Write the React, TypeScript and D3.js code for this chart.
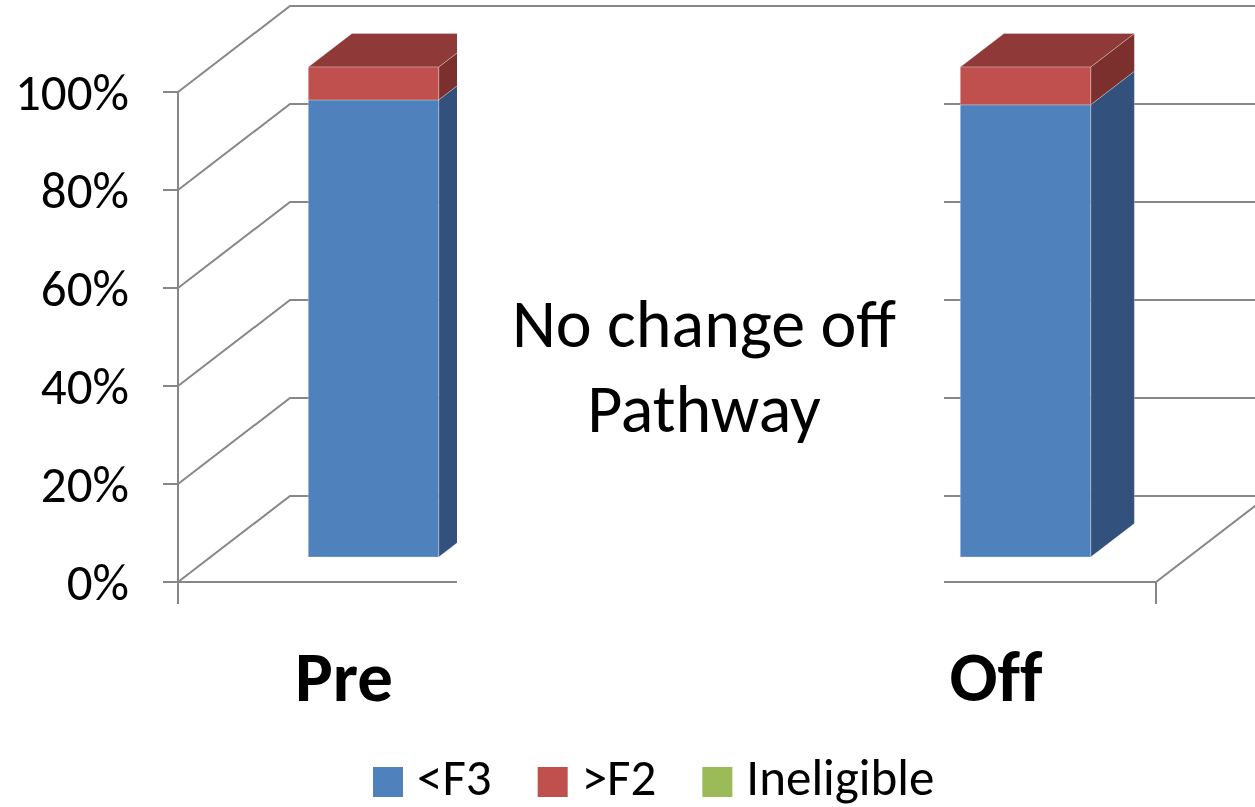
import React from "react";
import * as d3 from "d3";

// Categories along the floor; the middle slot sits under the note box.
const categories = ["Pre", "", "Off"];
const seriesNames = ["<F3", ">F2", "Ineligible"];
// Share of patients per category (fractions of 1), one array per series.
const lessF3 = [0.933, null, 0.923];
const moreF2 = [0.067, null, 0.077];
const ineligible = [0, null, 0];
const yTicks = [0, 0.2, 0.4, 0.6, 0.8, 1];
const noteLines = ["No change off", "Pathway"];

const W = 1255;
const H = 807;
const FONT = "Carlito, Calibri, Lato, sans-serif";

// front / side / top shades for each series
const shades = [
  { front: "#4F81BD", side: "#32527D", top: "#3F6797" },
  { front: "#C0504D", side: "#7B302E", top: "#8F3A38" },
  { front: "#9BBB59", side: "#637A35", top: "#7C9847" },
];

function textWidth(t: string, size: number) {
  const ctx = document.createElement("canvas").getContext("2d");
  if (!ctx) return t.length * size * 0.5;
  ctx.font = `${size}px ${FONT}`;
  return ctx.measureText(t).width;
}

export default function App() {
  const x = d3.scaleBand<string>().domain(categories.map((c, i) => i + ":" + c)).range([178, 1156]).padding(0);
  const y = d3.scaleLinear().domain([0, 1]).range([582, 92]);
  const DX = 112;
  const DY = -86;
  const d0 = 0.29;
  const d1 = 0.68;
  const barW = x.bandwidth() / 2.5;
  const grid = "#878787";

  const series = [lessF3, moreF2, ineligible];
  const bars: React.ReactNode[] = [];
  categories.forEach((c, i) => {
    if (series[0][i] == null) return;
    const cx = (x(i + ":" + c) as number) + x.bandwidth() / 2;
    const xl = cx - barW / 2;
    const xr = cx + barW / 2;
    let acc = 0;
    const segs: { lo: number; hi: number; s: number }[] = [];
    series.forEach((arr, s) => {
      const v = arr[i] as number;
      if (v > 0) {
        segs.push({ lo: acc, hi: acc + v, s });
        acc += v;
      }
    });
    const P = (px: number, v: number, d: number) => `${px + d * DX},${y(v) + d * DY}`;
    segs.forEach((g, k) => {
      const sh = shades[g.s];
      const isTop = k === segs.length - 1;
      bars.push(
        <g key={`${i}-${g.s}`} stroke="rgba(255,255,255,0.35)" strokeWidth={0.8}>
          <polygon points={[P(xr, g.hi, d0), P(xr, g.hi, d1), P(xr, g.lo, d1), P(xr, g.lo, d0)].join(" ")} fill={sh.side} />
          {isTop && (
            <polygon points={[P(xl, g.hi, d0), P(xr, g.hi, d0), P(xr, g.hi, d1), P(xl, g.hi, d1)].join(" ")} fill={sh.top} />
          )}
          <polygon points={[P(xl, g.hi, d0), P(xr, g.hi, d0), P(xr, g.lo, d0), P(xl, g.lo, d0)].join(" ")} fill={sh.front} />
        </g>
      );
    });
  });

  const [x0, x1] = x.range();
  const boundaries = [...categories.map((c, i) => x(i + ":" + c) as number), x1];

  // legend layout: swatch, gap, label, gap
  const legendSize = 51;
  const sw = 30;
  let lx = 373;
  const legendItems = seriesNames.map((n, i) => {
    const item = { n, i, x: lx };
    lx += sw + 14 + textWidth(n, legendSize) + 46;
    return item;
  });

  return (
    <svg width={W} height={H} style={{ position: "absolute", left: 0, top: 0, background: "#fff" }} fontFamily={FONT}>
      {/* walls: left wall diagonals + back wall gridlines */}
      <g stroke={grid} strokeWidth={2} fill="none">
        {yTicks.map((t) => (
          <polyline key={t} points={`${x0},${y(t)} ${x0 + DX},${y(t) + DY} ${x1 + DX},${y(t) + DY}`} />
        ))}
        {/* floor front and right edges */}
        <polyline points={`${x0},${y(0)} ${x1},${y(0)} ${x1 + DX},${y(0) + DY}`} />
        {/* value axis */}
        <line x1={x0} y1={y(1)} x2={x0} y2={y(0) + 22} />
        {yTicks.map((t) => (
          <line key={"t" + t} x1={x0 - 15} y1={y(t)} x2={x0} y2={y(t)} />
        ))}
        {boundaries.map((b, i) => (
          <line key={"c" + i} x1={b} y1={y(0)} x2={b} y2={y(0) + 22} />
        ))}
      </g>

      {bars}

      {/* note box over the middle slot */}
      <rect x={457} y={12} width={487} height={600} fill="#fff" />
      <g fontSize={68} textAnchor="middle" fill="#000">
        {noteLines.map((l, i) => (
          <text key={l} x={704} y={347 + i * 85}>{l}</text>
        ))}
      </g>

      {/* value axis labels */}
      <g fontSize={51} textAnchor="end" fill="#000">
        {yTicks.map((t) => (
          <text key={t} x={129} y={y(t)} dy="0.36em">{d3.format(".0%")(t)}</text>
        ))}
      </g>

      {/* category labels */}
      <g fontSize={71} fontWeight="bold" textAnchor="middle" fill="#000" style={{ fontVariantLigatures: "none" }}>
        {categories.map((c, i) => (
          <text key={i} x={(x(i + ":" + c) as number) + x.bandwidth() / 2 + 3} y={701}>{c}</text>
        ))}
      </g>

      {/* legend */}
      <g fontSize={legendSize} fill="#000">
        {legendItems.map((it) => (
          <g key={it.n}>
            <rect x={it.x} y={767} width={sw} height={30} fill={shades[it.i].front} />
            <text x={it.x + sw + 14} y={795}>{it.n}</text>
          </g>
        ))}
      </g>
    </svg>
  );
}
